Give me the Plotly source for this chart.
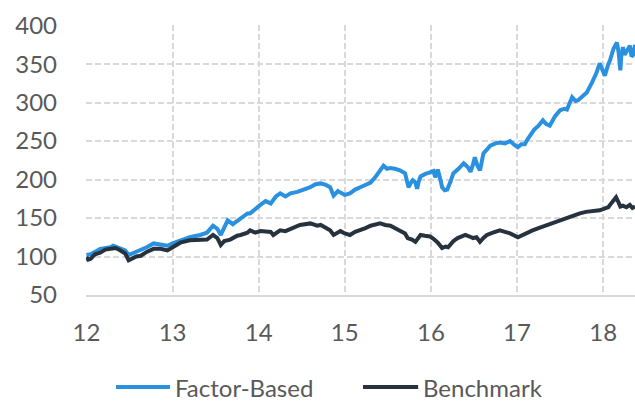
import plotly.graph_objects as go

# ---- data ----
fb_x = [12.00, 12.05, 12.16, 12.28, 12.31, 12.39, 12.45, 12.49, 12.55, 12.63, 12.70, 12.78, 12.86, 12.94,
        13.00, 13.09, 13.20, 13.32, 13.40, 13.47, 13.52, 13.56, 13.60, 13.64, 13.70, 13.75, 13.80, 13.87,
        13.90, 13.96, 14.02, 14.08, 14.14, 14.20, 14.25, 14.31, 14.37, 14.45, 14.52, 14.60, 14.66, 14.72,
        14.78, 14.83, 14.87, 14.92, 14.95, 15.00, 15.06, 15.12, 15.18, 15.24, 15.30, 15.36, 15.41, 15.45,
        15.49, 15.53, 15.58, 15.64, 15.70, 15.72, 15.74, 15.77, 15.79, 15.82, 15.84, 15.86, 15.88, 15.93,
        15.99, 16.03, 16.05, 16.08, 16.11, 16.13, 16.16, 16.19, 16.23, 16.26, 16.32, 16.38, 16.43, 16.46,
        16.49, 16.51, 16.54, 16.57, 16.61, 16.65, 16.69, 16.75, 16.80, 16.86, 16.92, 16.97, 17.01, 17.05,
        17.09, 17.12, 17.15, 17.20, 17.25, 17.30, 17.34, 17.38, 17.44, 17.50, 17.55, 17.58, 17.64, 17.68,
        17.71, 17.76, 17.81, 17.87, 17.92, 17.96, 18.00, 18.02, 18.06, 18.08, 18.12, 18.16, 18.18, 18.20,
        18.21, 18.23, 18.25, 18.28, 18.31, 18.33, 18.35, 18.37]
fb_y = [102, 103, 110, 112, 114, 110, 108, 102, 105, 108, 112, 117, 116, 114,
        117, 121, 125, 128, 131, 140, 136, 128, 138, 147, 142, 146, 150, 156,
        156, 162, 167, 172, 169, 178, 182, 178, 182, 184, 187, 190, 194, 195,
        193, 190, 179, 185, 183, 180, 182, 187, 190, 193, 196, 204, 212, 218,
        214, 215, 214, 212, 208, 200, 190, 196, 199, 196, 188, 198, 204, 207,
        209, 211, 203, 213, 200, 190, 186, 187, 198, 208, 214, 221, 216, 210,
        220, 229, 218, 212, 234, 240, 244, 247, 248, 247, 250, 245, 242, 246,
        246, 252, 257, 265, 270, 277, 272, 270, 282, 290, 292, 291, 307, 302,
        303, 308, 313, 326, 338, 351, 340, 335, 350, 355, 370, 378, 365, 342,
        360, 372, 362, 368, 374, 360, 362, 375]

bm_x = [12.00, 12.02, 12.05, 12.10, 12.16, 12.22, 12.28, 12.34, 12.39, 12.45, 12.49, 12.53, 12.58, 12.63,
        12.70, 12.78, 12.86, 12.94, 13.00, 13.09, 13.20, 13.32, 13.40, 13.47, 13.52, 13.56, 13.60, 13.67,
        13.75, 13.79, 13.87, 13.90, 13.96, 14.02, 14.08, 14.14, 14.17, 14.25, 14.31, 14.37, 14.48, 14.60,
        14.64, 14.68, 14.72, 14.78, 14.83, 14.87, 14.92, 14.95, 15.00, 15.06, 15.12, 15.18, 15.24, 15.30,
        15.36, 15.41, 15.47, 15.53, 15.58, 15.64, 15.70, 15.73, 15.78, 15.82, 15.85, 15.88, 15.93, 15.99,
        16.03, 16.08, 16.13, 16.17, 16.20, 16.26, 16.31, 16.36, 16.40, 16.45, 16.49, 16.53, 16.57, 16.61,
        16.65, 16.72, 16.80, 16.86, 16.92, 17.01, 17.06, 17.12, 17.18, 17.25, 17.30, 17.38, 17.44, 17.50,
        17.58, 17.65, 17.73, 17.80, 17.87, 17.96, 18.03, 18.06, 18.10, 18.15, 18.18, 18.20, 18.23, 18.27,
        18.31, 18.34, 18.37]
bm_y = [99, 96, 97, 103, 105, 109, 110, 111, 108, 104, 95, 97, 100, 101,
        106, 110, 110, 108, 112, 118, 121, 121, 122, 128, 124, 115, 120, 122,
        127, 128, 131, 134, 131, 133, 132, 132, 128, 134, 133, 136, 141, 143,
        142, 140, 141, 137, 134, 128, 131, 133, 130, 128, 132, 134, 137, 140,
        142, 143, 141, 140, 137, 134, 130, 124, 122, 119, 124, 128, 127, 126,
        123, 118, 111, 113, 112, 120, 124, 127, 128, 126, 124, 125, 119, 124,
        128, 131, 134, 132, 130, 125, 128, 131, 134, 137, 139, 142, 145, 147,
        150, 154, 156, 158, 159, 160, 163, 164, 170, 177, 170, 165, 166, 164,
        167, 163, 165]

series_names = ["Factor-Based", "Benchmark"]
x_ticks = [12, 13, 14, 15, 16, 17, 18]
y_ticks = [50, 100, 150, 200, 250, 300, 350, 400]

BLUE = "#2A90E0"
DARK = "#27323F"
TXT = "#595959"
GRID = "#D9D9D9"
FONT = "Lato"
FS = 24

fig = go.Figure()
fig.add_trace(go.Scatter(x=fb_x, y=fb_y, mode="lines", name=series_names[0],
                         line=dict(color=BLUE, width=4), showlegend=False))
fig.add_trace(go.Scatter(x=bm_x, y=bm_y, mode="lines", name=series_names[1],
                         line=dict(color=DARK, width=4), showlegend=False))

fig.update_layout(
    width=635, height=401,
    margin=dict(l=86, r=0, t=25, b=106, autoexpand=False),
    paper_bgcolor="white", plot_bgcolor="white",
    font=dict(family=FONT, size=FS, color=TXT),
)
fig.update_xaxes(range=[11.995, 18.37], tickvals=x_ticks, ticktext=[str(t) for t in x_ticks],
                 showgrid=True, gridcolor=GRID, gridwidth=1.5, griddash="6px,3px",
                 showline=True, linecolor=GRID, linewidth=2, zeroline=False, automargin=False,
                 ticks="", ticklabelstandoff=15, tickfont=dict(size=FS, color=TXT))
fig.update_yaxes(range=[50, 400.8], tickvals=y_ticks,
                 showgrid=True, gridcolor=GRID, gridwidth=1.5, griddash="6px,3px",
                 showline=False, zeroline=False, automargin=False,
                 ticks="", ticklabelstandoff=28, tickfont=dict(size=FS, color=TXT))

# manual legend (wider line samples like the reference)
leg_y = -0.341
items = [(0.0547, 0.153, 0.160, series_names[0], BLUE),
         (0.5046, 0.605, 0.612, series_names[1], DARK)]
for x0, x1, xt, name, col in items:
    fig.add_shape(type="line", xref="paper", yref="paper", x0=x0, x1=x1, y0=leg_y, y1=leg_y,
                  line=dict(color=col, width=4))
    fig.add_annotation(xref="paper", yref="paper", x=xt, y=leg_y, text=name, showarrow=False,
                       borderpad=0, xanchor="left", yanchor="middle",
                       font=dict(family=FONT, size=FS, color=TXT))

fig.write_html("out.html", config={"displayModeBar": False},
               post_script="document.body.style.margin='0';document.body.style.overflow='hidden';")
